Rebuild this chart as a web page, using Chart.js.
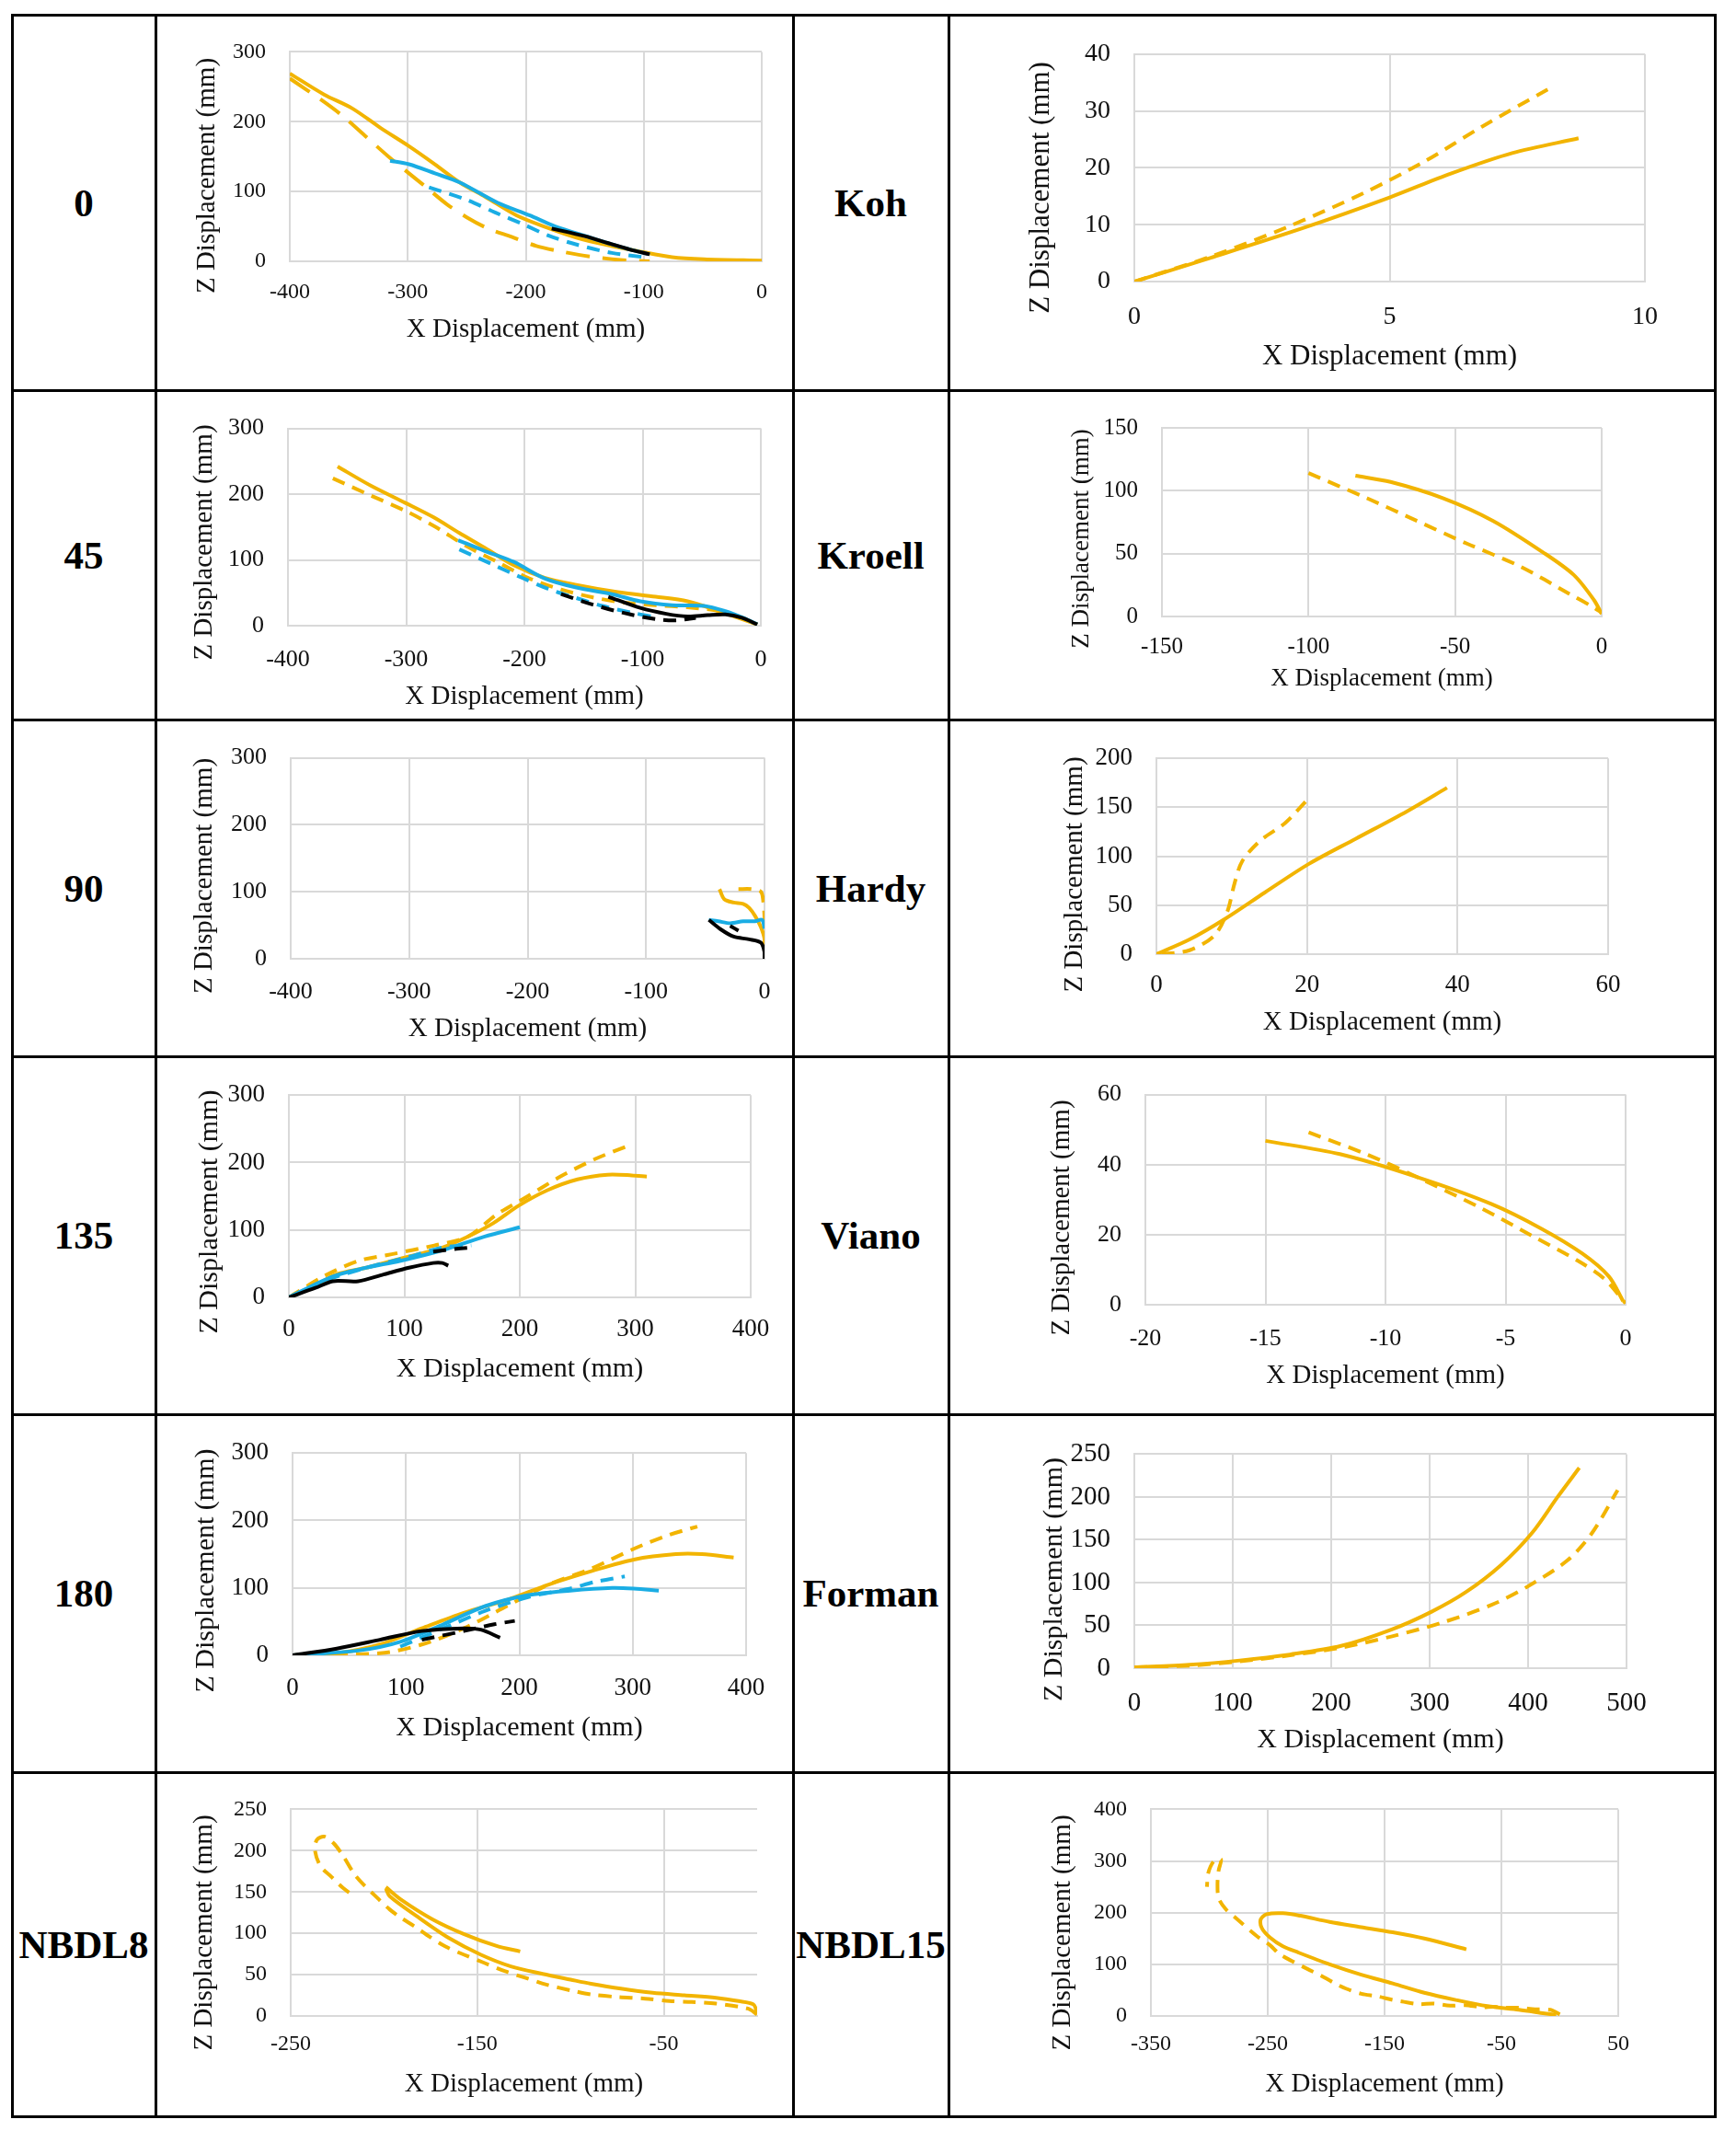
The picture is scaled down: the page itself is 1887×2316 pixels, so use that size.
<!DOCTYPE html>
<html>
<head>
<meta charset="utf-8">
<script src="https://cdn.jsdelivr.net/npm/chart.js@4.4.1/dist/chart.umd.min.js"></script>
<style>
  body { margin: 0; background: #fff; }
  #page { position: relative; width: 1887px; height: 2316px; background: #fff; overflow: hidden; }
  #page canvas { position: absolute; z-index: 1; }
  .line { position: absolute; background: #000; z-index: 3; }
  .lbl { position: absolute; z-index: 2; display: flex; align-items: center; justify-content: center;
         font: bold 43px 'Liberation Serif', 'Times New Roman', serif; color: #000; }
</style>
</head>
<body>
<div id="page"></div>
<script>
// ---- row labels ----
const rowLabelsLeft = ["0", "45", "90", "135", "180", "NBDL8"];
const rowLabelsRight = ["Koh", "Kroell", "Hardy", "Viano", "Forman", "NBDL15"];

// ---- tick values ----
const ticksNeg400 = [-400, -300, -200, -100, 0];
const ticks0to400 = [0, 100, 200, 300, 400];
const ticks0to300 = [0, 100, 200, 300];
const ticksKohX = [0, 5, 10];
const ticksKohY = [0, 10, 20, 30, 40];
const ticksKroellX = [-150, -100, -50, 0];
const ticksKroellY = [0, 50, 100, 150];
const ticksHardyX = [0, 20, 40, 60];
const ticksHardyY = [0, 50, 100, 150, 200];
const ticksVianoX = [-20, -15, -10, -5, 0];
const ticksVianoY = [0, 20, 40, 60];
const ticksFormanX = [0, 100, 200, 300, 400, 500];
const ticksFormanY = [0, 50, 100, 150, 200, 250];
const ticksNbdl8X = [-250, -150, -50];
const ticksNbdl8Y = [0, 50, 100, 150, 200, 250];
const ticksNbdl15X = [-350, -250, -150, -50, 50];
const ticksNbdl15Y = [0, 100, 200, 300, 400];

// ---- series, [x, z] in mm ----
// 0 deg
const c0Yellow = [[-400,269],[-371,239],[-347,219],[-323,191],[-299,165],[-277,139],[-256,113],[-234,92],[-208,66],[-183,49],[-157,34],[-130,23],[-103,14],[-76,6],[-49,3],[0,1]];
const c0YellowDash = [[-400,262],[-374,232],[-355,208],[-335,178],[-317,151],[-299,126],[-285,107],[-267,82],[-250,63],[-232,47],[-212,35],[-191,22],[-170,14],[-146,7],[-120,2],[-95,0]];
const c0Blue = [[-315,144],[-299,139],[-277,126],[-256,113],[-224,84],[-197,66],[-175,50],[-149,36],[-116,19],[-95,10]];
const c0BlueDash = [[-282,106],[-250,88],[-226,70],[-202,53],[-181,37],[-157,24],[-127,12],[-95,5]];
const c0Black = [[-178,47],[-150,36],[-130,26],[-112,17],[-95,10]];
// Koh
const c1Yellow = [[0,0],[1.5,4.2],[3.3,9.4],[5.0,14.8],[6.2,19.0],[7.4,22.6],[8.7,25.2]];
const c1YellowDash = [[0,0],[1.5,4.4],[3.0,9.6],[4.5,15.6],[5.7,21.2],[6.8,27.2],[8.1,33.8]];
// 45 deg
const c2Yellow = [[-358,242],[-330,213],[-301,187],[-277,165],[-255,141],[-234,119],[-209,92],[-183,73],[-156,62],[-121,51],[-89,44],[-62,37],[-35,22],[-21,13],[-3,2]];
const c2YellowDash = [[-362,224],[-330,198],[-300,174],[-275,150],[-250,122],[-223,97],[-196,72],[-169,55],[-142,43],[-115,35],[-89,31],[-62,28],[-35,22],[-15,10],[-3,2]];
const c2Blue = [[-256,130],[-234,114],[-209,97],[-183,72],[-156,58],[-126,48],[-102,37],[-75,31],[-48,30],[-30,22],[-15,12],[-3,2]];
const c2BlueDash = [[-255,116],[-228,94],[-201,72],[-180,56],[-156,42],[-134,30],[-107,19],[-89,13]];
const c2Black = [[-129,44],[-102,27],[-80,18],[-62,14],[-45,16],[-30,17],[-16,12],[-3,2]];
const c2BlackDash = [[-169,48],[-142,32],[-115,19],[-89,10],[-72,8],[-55,12]];
// Kroell
const c3Yellow = [[-84,112],[-72,107],[-54,94],[-37,76],[-20,51],[-9.5,33],[-2.6,13],[0,2]];
const c3YellowDash = [[-100,114],[-80,94],[-63,76],[-46,58],[-28,40],[-11,18],[-2.6,7],[0,3]];
// 90 deg
const c4Yellow = [[-38,104],[-34,89],[-26,84],[-18,82],[-13,76],[-8,64],[-3,47],[0,29],[0,0]];
const c4YellowDash = [[-22,104],[-11,104],[-3,100],[-1,85],[0,60],[0,30],[0,0]];
const c4Blue = [[-47,58],[-39,56],[-29,53],[-18,56],[-8,56],[-2,58],[0,45]];
const c4Black = [[-47,58],[-37,44],[-26,33],[-13,29],[-3,24],[0,10],[0,0]];
const c4BlackDash = [[-29,49],[-22,42]];
// Hardy
const c5Yellow = [[0,0],[4.4,15],[9.1,36],[14.4,63],[20.2,92],[26.5,118],[33.3,146],[38.6,170]];
const c5YellowDash = [[0.7,0],[4.4,4],[7.7,19],[9.4,43],[10.4,73],[11.4,95],[13.8,116],[17.1,134],[20.2,159]];
// 135 deg
const c6Yellow = [[0,0],[23,18],[41,34],[67,44],[96,57],[133,74],[155,90],[177,110],[199,136],[224,159],[250,175],[276,182],[297,181],[310,179]];
const c6YellowDash = [[0,0],[30,31],[60,54],[89,64],[126,77],[155,90],[180,123],[206,149],[235,179],[265,205],[294,225]];
const c6Blue = [[0,0],[38,31],[67,44],[96,54],[133,70],[169,90],[200,104]];
const c6BlueDash = [[0,0],[30,24],[67,44],[104,60],[133,74],[158,77]];
const c6Black = [[0,0],[23,14],[38,24],[60,24],[82,34],[104,44],[125,51],[133,51],[138,47]];
const c6BlackDash = [[125,68],[145,72],[160,74]];
// Viano
const c7Yellow = [[-15,46.8],[-11.9,43],[-8.7,36.5],[-5.6,28.8],[-3.5,21.7],[-1.8,14.6],[-0.7,8.1],[-0.1,1]];
const c7YellowDash = [[-13.2,49.2],[-10.8,43],[-8.7,36.5],[-6,27.5],[-3.9,19.7],[-2,12.6],[-0.9,7.5],[0,0.4]];
// 180 deg
const c8Yellow = [[0,0],[39,3],[77,16],[114,40],[151,63],[189,82],[226,105],[264,125],[301,142],[338,150],[361,150],[389,145]];
const c8YellowDash = [[0,0],[77,3],[114,16],[151,40],[189,73],[226,105],[264,129],[301,158],[331,178],[357,191]];
const c8Blue = [[0,0],[58,7],[95,20],[133,46],[170,73],[207,89],[245,96],[282,100],[301,99],[323,96]];
const c8BlueDash = [[95,13],[133,40],[170,66],[207,86],[245,99],[267,109],[293,117]];
const c8Black = [[0,0],[39,10],[77,23],[114,36],[151,40],[166,38],[183,26]];
const c8BlackDash = [[114,23],[151,36],[178,46],[196,51]];
// Forman
const c9Yellow = [[0,1],[56,4],[107,9],[158,16],[210,26],[261,45],[302,66],[337,89],[373,121],[404,158],[430,200],[452,234]];
const c9YellowDash = [[0,1],[56,3],[107,8],[158,15],[210,24],[261,37],[312,53],[363,74],[399,95],[440,126],[465,158],[491,208]];
// NBDL8
const c10YellowDash = [[0,2],[-5,9],[-22,15],[-35,17],[-47,18],[-60,21],[-75,23],[-89,26],[-100,31],[-113,38],[-124,46],[-135,54],[-146,64],[-157,74],[-167,84],[-177,98],[-184,109],[-191,119],[-197,129],[-205,146],[-211,159],[-216,172],[-222,194],[-227,209],[-232,217],[-236,213],[-237,200],[-234,181],[-228,168],[-222,155],[-216,145]];
const c10YellowA = [[-199,156],[-191,141],[-174,117],[-157,99],[-140,85],[-127,78]];
const c10YellowB = [[-199,154],[-197,145],[-182,120],[-165,94],[-148,74],[-132,60],[-115,51],[-100,44],[-89,39],[-73,33],[-56,28],[-39,25],[-22,22],[-10,18],[-2,14],[0,4]];
// NBDL15
const c11YellowDash = [[0,3],[-8,12],[-21,13],[-35,16],[-46,16],[-57,18],[-67,17],[-81,21],[-94,20],[-108,24],[-121,23],[-135,28],[-143,31],[-156,38],[-170,43],[-183,53],[-194,65],[-205,79],[-216,91],[-229,106],[-240,120],[-248,137],[-259,154],[-278,191],[-286,207],[-292,228],[-293,255],[-292,282],[-290,303],[-296,300],[-301,276],[-302,250]];
const c11Yellow = [[-80,129],[-116,150],[-143,162],[-170,172],[-197,182],[-222,194],[-237,199],[-251,197],[-256,187],[-255,170],[-248,152],[-237,135],[-224,123],[-197,100],[-170,80],[-143,63],[-116,45],[-89,31],[-62,19],[-35,12],[-13,5],[-3,2]];

// ---- styles ----
const YEL = "#F2B400", BLU = "#1AADE4", BLK = "#000000";
const SOLID = [], DASH = [14, 9], LONGDASH = [26, 14];
const GRID = "#d9d9d9";
const TXT = "#111111";
const FONT = "'Liberation Serif', 'Times New Roman', serif";

const colLines = [13, 169, 862, 1031, 1864];
const rowLines = [16, 424, 782, 1148, 1537, 1926, 2300];

const panels = [
  { row: 0, side: 0, plot: [315, 52, 828, 284], xr: [-400, 0], yr: [0, 300], xTicks: ticksNeg400, yTicks: ticks0to300,
    tick: 24, title: 29, xTickY: 318, xTitleY: 358, yTitleX: 225,
    series: [[c0Black, BLK, SOLID], [c0BlueDash, BLU, DASH], [c0Blue, BLU, SOLID], [c0YellowDash, YEL, LONGDASH], [c0Yellow, YEL, SOLID]] },
  { row: 0, side: 1, plot: [1233, 56, 1788, 306], xr: [0, 10], yr: [0, 40], xTicks: ticksKohX, yTicks: ticksKohY,
    tick: 28, title: 31, xTickY: 345, xTitleY: 388, yTitleX: 1132,
    series: [[c1YellowDash, YEL, DASH], [c1Yellow, YEL, SOLID]] },
  { row: 1, side: 0, plot: [313, 453, 827, 680], xr: [-400, 0], yr: [0, 300], xTicks: ticksNeg400, yTicks: ticks0to300,
    tick: 26, title: 29, xTickY: 717, xTitleY: 757, yTitleX: 222,
    series: [[c2BlackDash, BLK, DASH], [c2Black, BLK, SOLID], [c2BlueDash, BLU, DASH], [c2Blue, BLU, SOLID], [c2YellowDash, YEL, DASH], [c2Yellow, YEL, SOLID]] },
  { row: 1, side: 1, plot: [1263, 455, 1741, 670], xr: [-150, 0], yr: [0, 150], xTicks: ticksKroellX, yTicks: ticksKroellY,
    tick: 25, title: 27, xTickY: 703, xTitleY: 738, yTitleX: 1176,
    series: [[c3YellowDash, YEL, DASH], [c3Yellow, YEL, SOLID]] },
  { row: 2, side: 0, plot: [316, 816, 831, 1042], xr: [-400, 0], yr: [0, 300], xTicks: ticksNeg400, yTicks: ticks0to300,
    tick: 26, title: 29, xTickY: 1078, xTitleY: 1118, yTitleX: 222,
    series: [[c4BlackDash, BLK, DASH], [c4Black, BLK, SOLID], [c4Blue, BLU, SOLID], [c4YellowDash, YEL, DASH], [c4Yellow, YEL, SOLID]] },
  { row: 2, side: 1, plot: [1257, 818, 1748, 1037], xr: [0, 60], yr: [0, 200], xTicks: ticksHardyX, yTicks: ticksHardyY,
    tick: 27, title: 29, xTickY: 1071, xTitleY: 1111, yTitleX: 1168,
    series: [[c5YellowDash, YEL, DASH], [c5Yellow, YEL, SOLID]] },
  { row: 3, side: 0, plot: [314, 1178, 816, 1410], xr: [0, 400], yr: [0, 300], xTicks: ticks0to400, yTicks: ticks0to300,
    tick: 27, title: 30, xTickY: 1445, xTitleY: 1488, yTitleX: 228,
    series: [[c6BlackDash, BLK, DASH], [c6Black, BLK, SOLID], [c6BlueDash, BLU, DASH], [c6Blue, BLU, SOLID], [c6YellowDash, YEL, DASH], [c6Yellow, YEL, SOLID]] },
  { row: 3, side: 1, plot: [1245, 1183, 1767, 1418], xr: [-20, 0], yr: [0, 60], xTicks: ticksVianoX, yTicks: ticksVianoY,
    tick: 26, title: 29, xTickY: 1455, xTitleY: 1495, yTitleX: 1154,
    series: [[c7YellowDash, YEL, DASH], [c7Yellow, YEL, SOLID]] },
  { row: 4, side: 0, plot: [318, 1569, 811, 1799], xr: [0, 400], yr: [0, 300], xTicks: ticks0to400, yTicks: ticks0to300,
    tick: 27, title: 30, xTickY: 1835, xTitleY: 1878, yTitleX: 224,
    series: [[c8BlackDash, BLK, DASH], [c8Black, BLK, SOLID], [c8BlueDash, BLU, DASH], [c8Blue, BLU, SOLID], [c8YellowDash, YEL, DASH], [c8Yellow, YEL, SOLID]] },
  { row: 4, side: 1, plot: [1233, 1574, 1768, 1813], xr: [0, 500], yr: [0, 250], xTicks: ticksFormanX, yTicks: ticksFormanY,
    tick: 29, title: 30, xTickY: 1851, xTitleY: 1891, yTitleX: 1146,
    series: [[c9YellowDash, YEL, DASH], [c9Yellow, YEL, SOLID]] },
  { row: 5, side: 0, plot: [316, 1964, 823, 2191], xr: [-250, 0], yr: [0, 250], xTicks: ticksNbdl8X, yTicks: ticksNbdl8Y,
    tick: 24, title: 29, xTickY: 2222, xTitleY: 2265, yTitleX: 222,
    series: [[c10YellowDash, YEL, DASH], [c10YellowA, YEL, SOLID], [c10YellowB, YEL, SOLID]] },
  { row: 5, side: 1, plot: [1251, 1964, 1759, 2191], xr: [-350, 50], yr: [0, 400], xTicks: ticksNbdl15X, yTicks: ticksNbdl15Y,
    tick: 24, title: 29, xTickY: 2222, xTitleY: 2265, yTitleX: 1155,
    series: [[c11YellowDash, YEL, DASH], [c11Yellow, YEL, SOLID]] }
];

const page = document.getElementById("page");

// table lines
colLines.forEach(x => {
  const d = document.createElement("div");
  d.className = "line";
  d.style.cssText = `left:${x - 1.5}px;top:${rowLines[0] - 1.5}px;width:3px;height:${rowLines[rowLines.length - 1] - rowLines[0] + 3}px`;
  page.appendChild(d);
});
rowLines.forEach(y => {
  const d = document.createElement("div");
  d.className = "line";
  d.style.cssText = `left:${colLines[0] - 1.5}px;top:${y - 1.5}px;width:${colLines[colLines.length - 1] - colLines[0] + 3}px;height:3px`;
  page.appendChild(d);
});

// row labels
[rowLabelsLeft, rowLabelsRight].forEach((labels, side) => {
  labels.forEach((txt, r) => {
    const d = document.createElement("div");
    d.className = "lbl";
    const x0 = colLines[side * 2], x1 = colLines[side * 2 + 1];
    d.style.cssText = `left:${x0}px;top:${rowLines[r]}px;width:${x1 - x0}px;height:${rowLines[r + 1] - rowLines[r]}px`;
    d.textContent = txt;
    page.appendChild(d);
  });
});

// rotated y-axis title
const yTitlePlugin = {
  id: "yTitle",
  afterDraw(chart, args, opts) {
    const ctx = chart.ctx;
    ctx.save();
    ctx.translate(opts.x, opts.y);
    ctx.rotate(-Math.PI / 2);
    ctx.font = `${opts.size}px ${FONT}`;
    ctx.fillStyle = TXT;
    ctx.textAlign = "center";
    ctx.textBaseline = "middle";
    ctx.fillText(opts.text, 0, 0);
    ctx.restore();
  }
};

panels.forEach(p => {
  const cx0 = colLines[p.side * 2 + 1], cx1 = colLines[p.side * 2 + 2];
  const cy0 = rowLines[p.row], cy1 = rowLines[p.row + 1];
  const cw = cx1 - cx0, ch = cy1 - cy0;
  const [L, T, R, B] = p.plot;

  const canvas = document.createElement("canvas");
  canvas.width = cw;
  canvas.height = ch;
  canvas.style.cssText = `left:${cx0}px;top:${cy0}px;width:${cw}px;height:${ch}px`;
  page.appendChild(canvas);

  const datasets = p.series.map(([pts, color, dash]) => ({
    data: pts.map(([x, y]) => ({ x, y })),
    borderColor: color,
    backgroundColor: color,
    borderWidth: 4,
    borderDash: dash,
    showLine: true,
    pointRadius: 0,
    tension: 0.3,
    fill: false
  }));

  const tickFont = { family: FONT, size: p.tick };
  const xAxisH = cy1 - B;
  const yAxisW = L - cx0;

  new Chart(canvas, {
    type: "scatter",
    data: { datasets },
    options: {
      responsive: false,
      animation: false,
      devicePixelRatio: 1,
      layout: { padding: { left: 0, top: T - cy0, right: cx1 - R, bottom: 0 } },
      plugins: {
        legend: { display: false },
        tooltip: { enabled: false },
        yTitle: { text: "Z Displacement (mm)", size: p.title, x: p.yTitleX - cx0, y: (T + B) / 2 + 23 - cy0 }
      },
      scales: {
        x: {
          type: "linear",
          min: p.xr[0],
          max: p.xr[1],
          afterBuildTicks: s => { s.ticks = p.xTicks.map(v => ({ value: v })); },
          afterFit: s => { s.height = xAxisH; },
          grid: { color: GRID, lineWidth: 2, drawTicks: false },
          border: { color: GRID, width: 2 },
          ticks: { font: tickFont, color: TXT, padding: p.xTickY - B - p.tick * 0.6, maxRotation: 0, autoSkip: false, callback: v => String(v) },
          title: {
            display: true,
            text: "X Displacement (mm)",
            color: TXT,
            font: { family: FONT, size: p.title },
            padding: { top: 0, bottom: Math.max(0, cy1 - p.xTitleY - p.title * 0.6) }
          }
        },
        y: {
          type: "linear",
          min: p.yr[0],
          max: p.yr[1],
          afterBuildTicks: s => { s.ticks = p.yTicks.map(v => ({ value: v })); },
          afterFit: s => { s.width = yAxisW; },
          grid: { color: GRID, lineWidth: 2, drawTicks: false },
          border: { color: GRID, width: 2 },
          ticks: { font: tickFont, color: TXT, padding: 26, autoSkip: false, callback: v => String(v) }
        }
      }
    },
    plugins: [yTitlePlugin]
  });
});
</script>
</body>
</html>
